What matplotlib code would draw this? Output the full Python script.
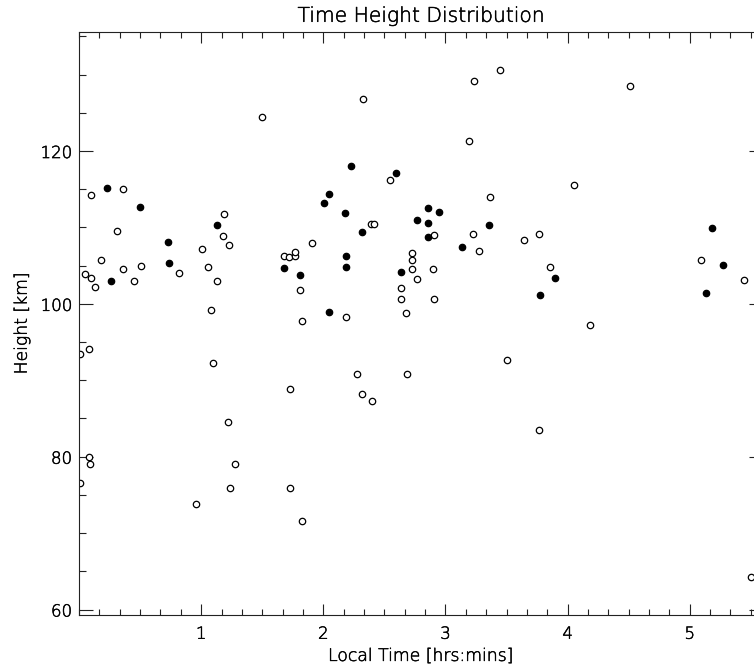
import numpy as np
import matplotlib
matplotlib.use('Agg')
import matplotlib.pyplot as plt
import matplotlib.patheffects as pe
from matplotlib.ticker import MultipleLocator, FixedLocator

# local time [hrs] and height [km] of each detection
open_time = [2.321, 1.502, 0.094, 0.361, 0.310, 1.188, 1.180, 1.229, 1.006, 1.909,
             0.184, 0.361, 0.506, 1.052, 0.820, 0.047, 0.094, 0.132, 0.449, 1.131,
             1.084, 1.680, 1.718, 1.767, 1.767, 1.811, 1.822, 2.188, 2.392, 2.411,
             3.446, 3.230, 4.508, 3.189, 2.545, 4.055, 3.364, 2.908, 3.222, 3.640,
             3.768, 3.271, 2.722, 2.722, 2.722, 2.771, 2.897, 2.632, 2.632, 2.908,
             2.681, 3.856, 4.180, 5.089, 5.447,
             0.009, 0.085, 1.098, 1.729, 2.275, 2.319, 2.400, 1.219, 0.085, 0.093,
             1.273, 0.009, 1.232, 1.729, 0.957, 1.822,
             2.687, 3.501, 3.768, 5.502]
open_height = [126.8, 124.4, 114.2, 115.0, 109.6, 111.8, 108.9, 107.7, 107.2, 108.0,
               105.7, 104.6, 105.0, 104.8, 104.1, 103.9, 103.4, 102.2, 103.0, 103.0,
               99.2, 106.2, 106.1, 106.2, 106.8, 101.8, 97.75, 98.3, 110.4, 110.4,
               130.6, 129.2, 128.5, 121.3, 116.2, 115.5, 114.0, 109.0, 109.2, 108.35,
               109.1, 106.9, 106.65, 105.8, 104.6, 103.3, 104.6, 102.1, 100.6, 100.6,
               98.75, 104.85, 97.2, 105.8, 103.1,
               93.5, 94.1, 92.2, 88.9, 90.85, 88.2, 87.3, 84.5, 80.0, 79.1,
               79.0, 76.5, 75.9, 75.85, 73.8, 71.6,
               90.8, 92.7, 83.5, 64.2]

filled_time = [0.227, 0.500, 0.263, 0.727, 0.735, 1.131, 1.680, 1.811, 2.007, 2.046,
               2.228, 2.179, 2.313, 2.188, 2.188, 2.046,
               2.591, 2.854, 2.944, 2.766, 2.854, 2.854, 3.359, 3.138, 2.632, 3.774,
               3.899, 5.185, 5.273, 5.133]
filled_height = [115.1, 112.7, 103.0, 108.05, 105.4, 110.3, 104.7, 103.8, 113.2, 114.4,
                 118.0, 111.9, 109.4, 106.3, 104.8, 98.9,
                 117.1, 112.6, 112.0, 111.0, 110.6, 108.8, 110.35, 107.5, 104.2, 101.1,
                 103.4, 109.9, 105.1, 101.4]

x_ticks = [1, 2, 3, 4, 5]
y_ticks = [60, 80, 100, 120]

plt.rcParams['font.family'] = ['DejaVu Sans']
plt.rcParams['font.weight'] = 200
plt.rcParams['axes.titleweight'] = 200
plt.rcParams['axes.labelweight'] = 200
ink = '#222222'
txt = 'black'
# thin strokes drawn over the light face so the lettering stays dark
stroke = [pe.withStroke(linewidth=0.35, foreground=txt)]

fig = plt.figure(figsize=(7.54, 6.68), dpi=100)
ax = fig.add_axes([0.1048, 0.0793, 0.9072, 0.8735])

ax.plot(open_time, open_height, 'o', ms=4.6, mfc='white', mec='black', mew=0.9)
ax.plot(filled_time, filled_height, 'o', ms=4.6, mfc='black', mec='black', mew=0.9)

ax.set_xlim(0, 5.6)
ax.set_ylim(59.28, 135.64)

ax.xaxis.set_major_locator(FixedLocator(x_ticks))
ax.set_xticklabels([str(t) for t in x_ticks])
ax.xaxis.set_minor_locator(MultipleLocator(1.0 / 6))
ax.yaxis.set_major_locator(FixedLocator(y_ticks))
ax.yaxis.set_minor_locator(MultipleLocator(5))

ax.tick_params(axis='x', which='major', direction='in', length=8, width=0.8,
               top=True, bottom=True, labelsize=12, pad=7, color=ink, labelcolor=txt)
ax.tick_params(axis='x', which='minor', direction='in', length=4, width=0.8,
               top=True, bottom=True, color=ink)
ax.tick_params(axis='y', which='major', direction='in', length=10, width=0.8,
               left=True, right=True, labelsize=12, pad=5, color=ink, labelcolor=txt)
ax.tick_params(axis='y', which='minor', direction='in', length=5, width=0.8,
               left=True, right=True, color=ink)

for s in ax.spines.values():
    s.set_linewidth(0.8)
    s.set_color(ink)

ax.set_title('Time Height Distribution', fontsize=14.6, color=txt, pad=7)
ax.set_xlabel('Local Time [hrs:mins]', fontsize=12.4, color=txt, labelpad=3)
ax.set_ylabel('Height [km]', fontsize=12.4, color=txt, labelpad=7)

for t in ax.get_xticklabels() + ax.get_yticklabels() + [ax.title, ax.xaxis.label, ax.yaxis.label]:
    t.set_path_effects(stroke)

fig.savefig('out.png', dpi=100)
